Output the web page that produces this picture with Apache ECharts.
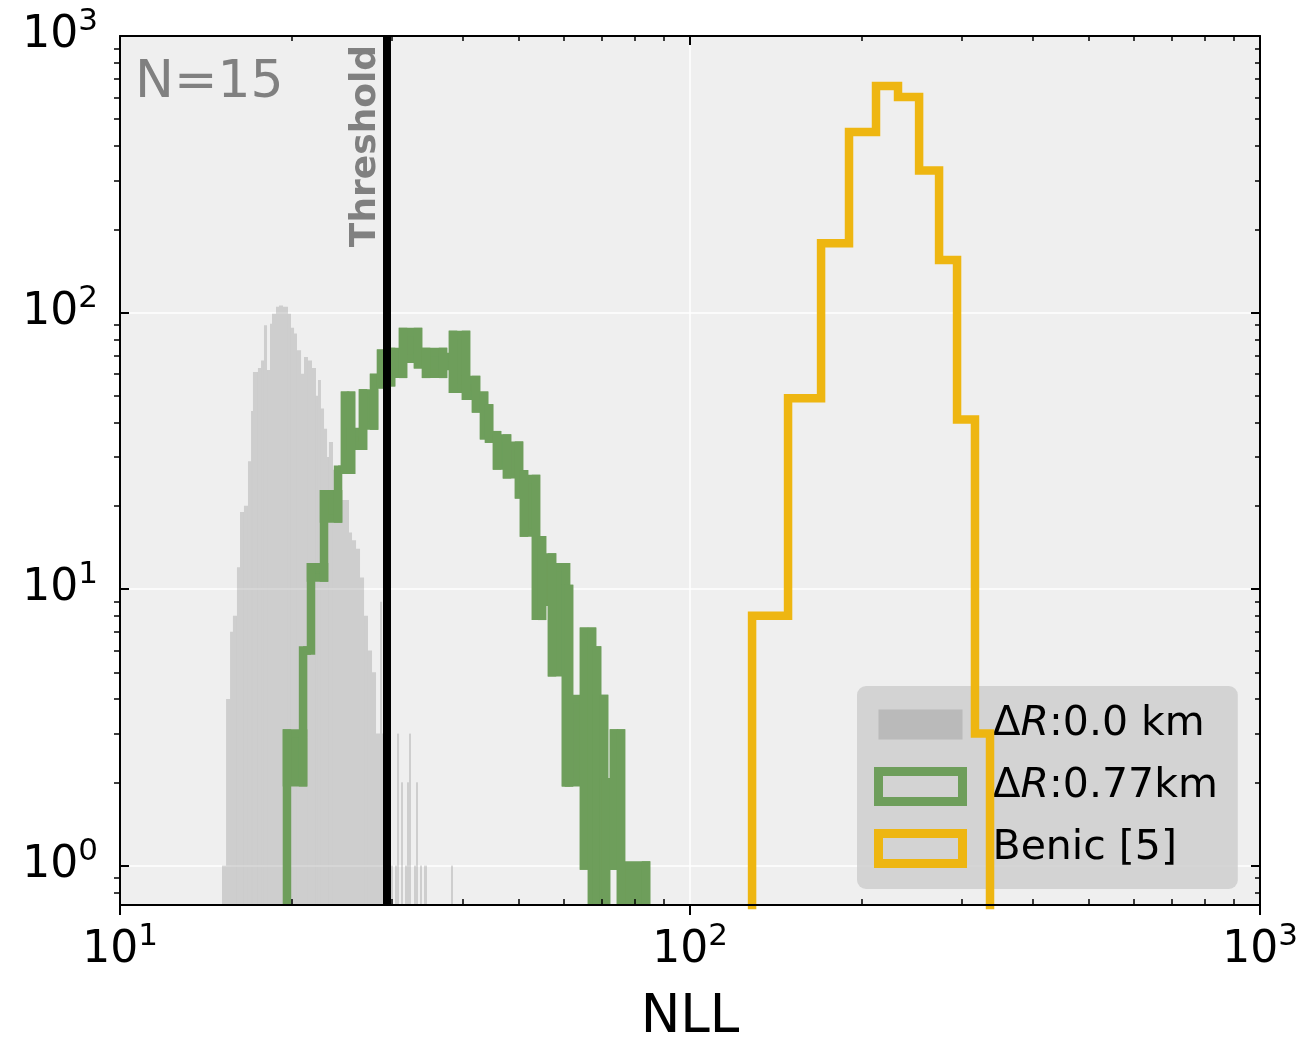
<!DOCTYPE html>
<html><head><meta charset="utf-8">
<script src="https://cdn.jsdelivr.net/npm/echarts@6/dist/echarts.min.js"></script>
<style>html,body{margin:0;padding:0;background:#fff}#c{width:1302px;height:1038px}</style>
</head><body><div id="c"></div>
<script>
// ---------- data ----------
const xMajor = [10, 100, 1000];
const xMinor = [20, 30, 40, 50, 60, 70, 80, 90, 200, 300, 400, 500, 600, 700, 800, 900];
const yMajor = [1, 10, 100, 1000];
const yMinor = [0.8, 0.9, 2, 3, 4, 5, 6, 7, 8, 9, 20, 30, 40, 50, 60, 70, 80, 90, 200, 300, 400, 500, 600, 700, 800, 900];

const threshold = 29.4;
const nLabel = 'N=15';

// ΔR:0.0 km  (filled histogram, fine bins)
const grayEdges = [15.10, 15.35, 15.60, 15.78, 16.04, 16.24, 16.50, 16.77, 16.98, 17.11, 17.46, 17.68, 17.89, 18.11, 18.33, 18.48, 18.78, 19.01, 19.32, 19.71, 19.95, 20.20, 20.44, 20.78, 21.03, 21.37, 21.72, 22.07, 22.25, 22.52, 22.80, 23.08, 23.26, 23.64, 24.13, 24.62, 25.22, 25.53, 25.95, 26.37, 26.80, 27.23, 27.68, 28.13, 28.59, 28.82, 29.05, 29.53];
const grayCounts = [1, 4, 7, 8, 12, 19, 20, 29, 44, 61, 63, 67, 90, 62, 91, 99, 105, 106, 105, 99, 88, 84, 73, 60, 69, 67, 63, 50, 57, 45, 38, 30, 34, 27, 21, 21, 16, 15, 14, 11, 8, 6, 5, 3, 9, 3, 3];
const grayTailLeft = [29.53, 30.37, 30.62, 31.12, 31.62, 31.88, 32.14, 32.79, 33.06, 33.60, 34.15, 38.08];
const grayTailRight = [30.13, 30.62, 30.87, 31.37, 31.88, 32.14, 32.40, 33.06, 33.33, 33.87, 34.56, 38.39];
const grayTailCounts = [1, 1, 3, 2, 1, 2, 3, 1, 2, 1, 1, 1];

// ΔR:0.77km (thick step outline; fine bins summarised as min/max per stretch)
const greenEdges = [19.63, 20.95, 21.63, 22.80, 24.13, 24.82, 25.43, 26.69, 27.91, 28.71, 29.89, 31.37, 33.33, 34.43, 36.87, 38.39, 40.46, 42.13, 43.52, 44.41, 45.86, 47.75, 50.12, 51.14, 53.68, 55.00, 57.27, 60.59, 61.34, 65.17, 67.31, 68.69, 70.66, 71.23, 73.56, 75.67, 83.73];
const greenHigh = [3, 6, 12, 22, 27, 50, 37, 51, 58, 71, 72, 85, 69, 72, 69, 83, 57, 50, 45, 36, 35, 33, 26, 25, 15, 13, 12, 10, 4, 7, 6, 4, 2, 2, 3, 1];
const greenLow = [2, 6, 11, 18, 27, 27, 33, 39, 55, 56, 60, 68, 65, 60, 64, 53, 50, 45, 36, 35, 28, 26, 22, 16, 8, 9, 5, 2, 2, 1, 0, 0, 0, 1, 1, 0];

// Benic [5]
const benicEdges = [128.5, 148.6, 169.8, 190.1, 212.0, 231.7, 252.3, 273.5, 294.1, 316.2, 336.0];
const benicCounts = [8, 49, 178, 450, 660, 602, 326, 155, 41, 3];

const seriesNames = ['ΔR:0.0 km', 'ΔR:0.77km', 'Benic [5]'];

// ---------- styling ----------
const GRAY = 'rgba(128,128,128,0.3)';
const GREEN = '#6e9e5b';
const YELLOW = '#eeb611';
const LW = 8.5;
const FONT = 'DejaVu Sans';

// ---------- build series data ----------
const grayData = [];
for (let i = 0; i < grayCounts.length; i++) grayData.push([grayEdges[i], grayEdges[i + 1], grayCounts[i]]);
for (let i = 0; i < grayTailCounts.length; i++) grayData.push([grayTailLeft[i], grayTailRight[i], grayTailCounts[i]]);

const greenData = [];
for (let i = 0; i < greenHigh.length; i++) {
  const pH = i > 0 ? greenHigh[i - 1] : 0, pL = i > 0 ? greenLow[i - 1] : 0;
  greenData.push([greenEdges[i], greenEdges[i + 1], greenHigh[i], greenLow[i], pH, pL, i === greenHigh.length - 1 ? 1 : 0]);
}

const BELOW = 0.1;
const benicData = [[benicEdges[0], BELOW]];
for (let i = 0; i < benicCounts.length; i++) {
  benicData.push([benicEdges[i], benicCounts[i]]);
  benicData.push([benicEdges[i + 1], benicCounts[i]]);
}
benicData.push([benicEdges[benicEdges.length - 1], BELOW]);

// ---------- helpers ----------
function powLabel(v) {
  const e = Math.round(Math.log10(v));
  return '{b|10}{s|' + e + '}';
}
const powRich = {
  b: { fontSize: 44, fontFamily: FONT, color: '#000' },
  s: { fontSize: 31, fontFamily: FONT, color: '#000', padding: [0, 0, 28, 0] }
};
function legendFmt(name) {
  if (name.indexOf('ΔR') === 0) return '{p|Δ}{i|R}{t|' + name.slice(2) + '}';
  return '{p|' + name + '}';
}
const legendRich = {
  p: { fontSize: 41, fontFamily: FONT, color: '#000', padding: [0, 0, 0, 25] },
  i: { fontSize: 41, fontFamily: FONT, color: '#000', fontStyle: 'italic' },
  t: { fontSize: 41, fontFamily: FONT, color: '#000' }
};

function axisBase(extra) {
  return Object.assign({
    type: 'log', logBase: 10, gridIndex: 0,
    axisLine: { show: false },
    axisLabel: { show: false },
    splitLine: { show: false },
    axisTick: { show: false }
  }, extra);
}

const chart = echarts.init(document.getElementById('c'), null, { renderer: 'canvas' });

const option = {
  animation: false,
  backgroundColor: '#ffffff',
  grid: { left: 120, top: 36, width: 1140, height: 869, show: true, backgroundColor: '#efefef', borderWidth: 0,
          containLabel: false, outerBoundsMode: 'none' },
  xAxis: [
    axisBase({
      min: 10, max: 1000, position: 'bottom',
      name: 'NLL', nameLocation: 'middle', nameGap: 87,
      nameTextStyle: { fontSize: 53, fontFamily: FONT, color: '#000' },
      axisTick: { show: true, customValues: xMajor, length: 10, lineStyle: { color: '#000', width: 2 } },
      axisLabel: { show: true, customValues: xMajor, formatter: powLabel, rich: powRich, margin: 16 },
      splitLine: { show: true, lineStyle: { color: '#ffffff', width: 1.5 } }
    }),
    axisBase({
      min: 10, max: 1000, position: 'bottom', z: 10,
      axisLine: { show: true, lineStyle: { color: '#000', width: 2 } },
      axisTick: { show: true, inside: true, customValues: xMinor, length: 6, lineStyle: { color: '#000', width: 1.5 } }
    }),
    axisBase({
      min: 10, max: 1000, position: 'top', z: 10,
      axisLine: { show: true, lineStyle: { color: '#000', width: 2 } },
      axisTick: { show: true, inside: true, customValues: xMajor, length: 9, lineStyle: { color: '#000', width: 2 } }
    }),
    axisBase({
      min: 10, max: 1000, position: 'top', z: 10,
      axisTick: { show: true, inside: true, customValues: xMinor, length: 5, lineStyle: { color: '#000', width: 1.5 } }
    })
  ],
  yAxis: [
    axisBase({
      min: 0.72, max: 1000, position: 'left',
      axisTick: { show: true, inside: true, customValues: yMajor, length: 9, lineStyle: { color: '#000', width: 2 } },
      axisLabel: { show: true, customValues: yMajor, formatter: powLabel, rich: powRich, margin: 22 },
      splitLine: { show: true, lineStyle: { color: '#ffffff', width: 1.5 } }
    }),
    axisBase({
      min: 0.72, max: 1000, position: 'left', z: 10,
      axisLine: { show: true, lineStyle: { color: '#000', width: 2 } },
      axisTick: { show: true, customValues: yMinor, length: 6, lineStyle: { color: '#000', width: 1.5 } }
    }),
    axisBase({
      min: 0.72, max: 1000, position: 'right', z: 10,
      axisLine: { show: true, lineStyle: { color: '#000', width: 2 } },
      axisTick: { show: true, inside: true, customValues: yMajor, length: 9, lineStyle: { color: '#000', width: 2 } }
    }),
    axisBase({
      min: 0.72, max: 1000, position: 'right', z: 10,
      axisTick: { show: true, inside: true, customValues: yMinor, length: 5, lineStyle: { color: '#000', width: 1.5 } }
    })
  ],
  legend: {
    left: 857, top: 686, orient: 'vertical', selectedMode: false,
    backgroundColor: 'rgba(204,204,204,0.8)', borderRadius: 9, padding: [18, 20, 20, 17],
    itemWidth: 84, itemHeight: 30, itemGap: 21,
    textStyle: { fontSize: 41, fontFamily: FONT, color: '#000', rich: legendRich },
    formatter: legendFmt,
    data: [
      { name: seriesNames[0], icon: 'rect', itemStyle: { color: GRAY, borderWidth: 0 } },
      { name: seriesNames[1], icon: 'rect', itemStyle: { color: 'rgba(0,0,0,0)', borderColor: GREEN, borderWidth: 9 } },
      { name: seriesNames[2], icon: 'rect', itemStyle: { color: 'rgba(0,0,0,0)', borderColor: YELLOW, borderWidth: 9 } }
    ]
  },
  graphic: [
    { type: 'text', x: 135, y: 83, z: 20, style: { text: nLabel, font: '52px "DejaVu Sans"', fill: '#808080', verticalAlign: 'middle' } },
    { type: 'text', x: 366, y: 146, z: 20, rotation: Math.PI / 2, style: { text: 'Threshold', font: 'bold 36px "DejaVu Sans"', fill: '#808080', align: 'center', verticalAlign: 'middle' } }
  ],
  series: [
    {
      name: seriesNames[0], type: 'custom', xAxisIndex: 0, yAxisIndex: 0, clip: true, z: 2,
      itemStyle: { color: GRAY },
      encode: { x: [0, 1], y: 2 },
      data: grayData,
      renderItem: function (params, api) {
        const c = api.value(2);
        const p0 = api.coord([api.value(0), c]);
        const p1 = api.coord([api.value(1), c]);
        const cs = params.coordSys;
        const bottom = cs.y + cs.height;
        return { type: 'rect', shape: { x: p0[0], y: p0[1], width: p1[0] - p0[0], height: bottom - p0[1] }, style: { fill: GRAY } };
      }
    },
    {
      name: seriesNames[1], type: 'custom', xAxisIndex: 0, yAxisIndex: 0, clip: true, z: 3,
      itemStyle: { color: GREEN },
      encode: { x: [0, 1], y: [2, 3] },
      data: greenData,
      renderItem: function (params, api) {
        const cs = params.coordSys;
        const bottom = cs.y + cs.height + LW;
        const x0 = api.value(0), x1 = api.value(1);
        const hi = api.value(2), lo = api.value(3), ph = api.value(4), pl = api.value(5), last = api.value(6);
        const px0 = api.coord([x0, 1])[0], px1 = api.coord([x1, 1])[0];
        const yp = v => v <= 0 ? bottom : api.coord([x0, v])[1];
        const children = [];
        const yHi = yp(hi), yLo = yp(lo);
        children.push({ type: 'rect', shape: { x: px0, y: yHi, width: px1 - px0, height: yLo - yHi },
          style: { fill: GREEN, stroke: GREEN, lineWidth: LW, lineJoin: 'miter' } });
        const cTop = Math.min(yHi, yp(ph)), cBot = Math.max(yLo, yp(pl));
        children.push({ type: 'line', shape: { x1: px0, y1: cTop, x2: px0, y2: cBot },
          style: { stroke: GREEN, lineWidth: LW, lineCap: 'square' } });
        if (last) {
          children.push({ type: 'line', shape: { x1: px1, y1: yHi, x2: px1, y2: bottom },
            style: { stroke: GREEN, lineWidth: LW, lineCap: 'square' } });
        }
        return { type: 'group', children: children };
      }
    },
    {
      name: seriesNames[2], type: 'line', xAxisIndex: 0, yAxisIndex: 0, clip: true, z: 4,
      showSymbol: false, symbol: 'none',
      itemStyle: { color: YELLOW },
      lineStyle: { color: YELLOW, width: LW, join: 'miter', cap: 'butt' },
      data: benicData,
      markLine: {
        silent: true, symbol: 'none', z: 6, animation: false,
        label: { show: false },
        lineStyle: { color: '#000', width: 8, type: 'solid' },
        data: [{ xAxis: threshold }]
      }
    }
  ]
};
chart.setOption(option);
</script>
</body></html>
